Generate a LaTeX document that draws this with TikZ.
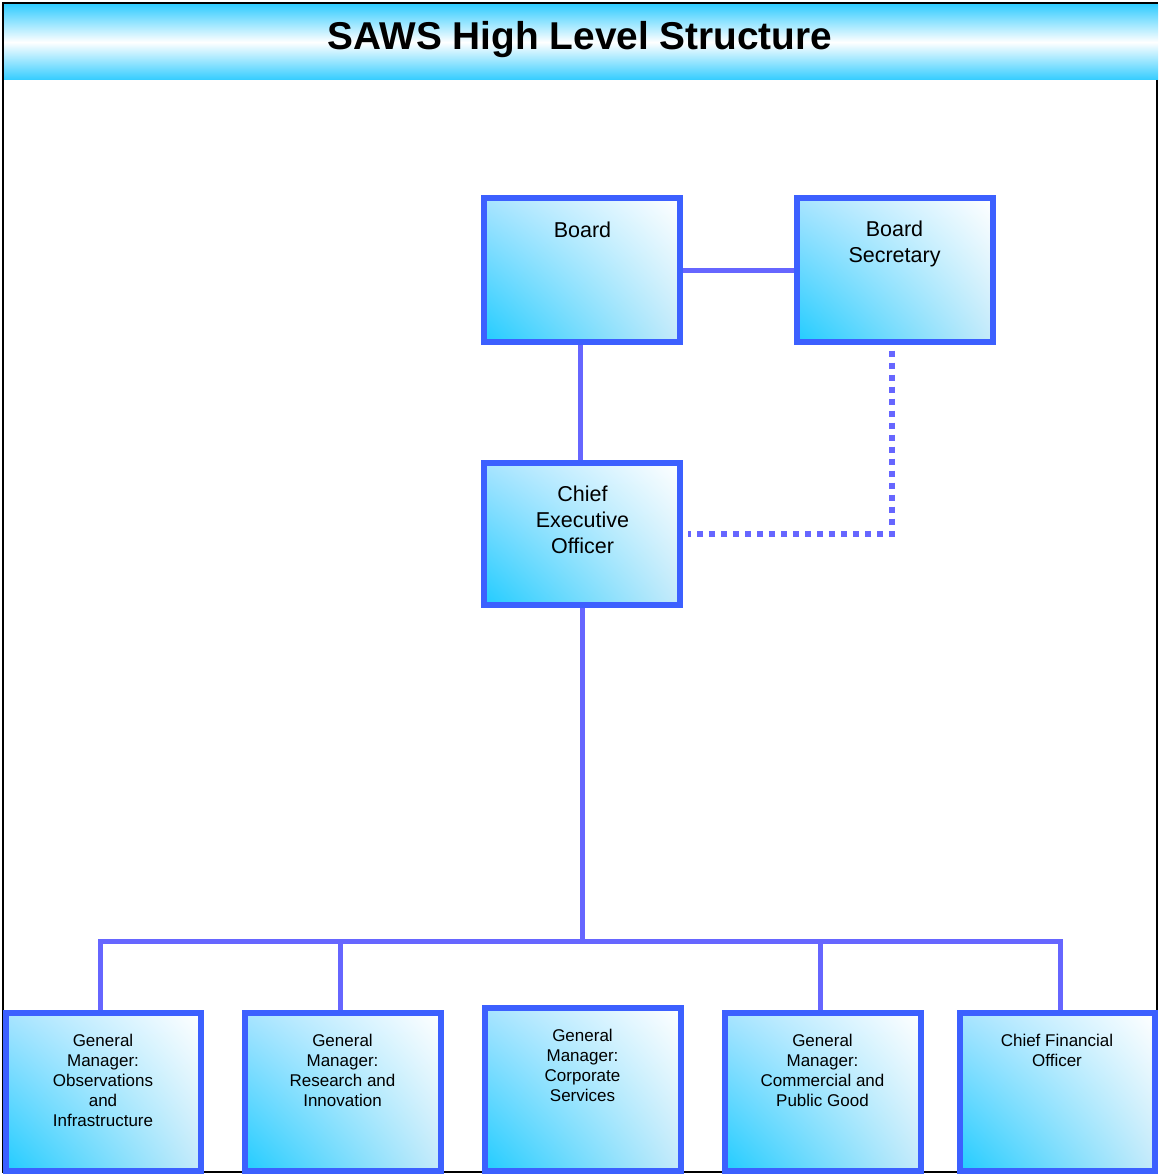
\documentclass[tikz,border=0pt]{standalone}
\usepackage{fontspec}
\setmainfont{Liberation Sans}
\usetikzlibrary{shadings}
\definecolor{boxblue}{HTML}{3C60FF}
\definecolor{linkblue}{HTML}{6666FF}
\definecolor{fillcyan}{HTML}{22CCFF}
\definecolor{midA}{HTML}{A8E4FF}
\definecolor{midB}{HTML}{C4EAFA}
\definecolor{hcyan}{HTML}{33CCFF}
\tikzset{
  orgbox/.style={draw=boxblue, line width=6pt, inner sep=0pt,
    minimum width=196pt, shade, shading=bilinear interpolation,
    lower left=fillcyan, upper right=white, upper left=midA, lower right=midB},
  bigtext/.style={inner sep=0pt, align=center, font=\fontsize{21.5}{26}\selectfont},
  smalltext/.style={inner sep=0pt, align=center, font=\fontsize{17}{20}\selectfont},
  link/.style={draw=linkblue, line width=5pt},
  dotlink/.style={draw=linkblue, line width=6pt, dash pattern=on 6pt off 6pt}
}
\begin{document}
\begin{tikzpicture}[x=1pt,y=-1pt]
\useasboundingbox (0,0) rectangle (1158,1174);
\fill[white] (0,0) rectangle (1158,1174);
% frame
\draw[black, line width=2.5pt] (3,3) rectangle (1157,1172);
% header
\shade[top color=hcyan, bottom color=hcyan, middle color=white] (4,4.3) rectangle (1158,80);
\node[inner sep=0pt, font=\fontsize{38.8}{44}\bfseries\selectfont] (title) at (580,40) {SAWS High Level Structure};

% top boxes
\node[orgbox, minimum height=143pt] (board) at (582,270) {};
\node[orgbox, minimum height=143pt] (sec) at (894.5,270) {};
\node[orgbox, minimum height=142pt] (ceo) at (582,533.5) {};

% bottom boxes
\node[orgbox, minimum width=195pt, minimum height=158pt] (b1) at (103,1091.5) {};
\node[orgbox, minimum height=158pt] (b2) at (342.5,1091.5) {};
\node[orgbox, minimum height=163pt] (b3) at (582.5,1089) {};
\node[orgbox, minimum height=158pt] (b4) at (822.5,1091.5) {};
\node[orgbox, minimum width=195pt, minimum height=158pt] (b5) at (1057,1091.5) {};

% texts
\node[bigtext] (boardt) at (582.5,230) {Board};
\node[bigtext] (sect) at (894.5,244) {Board\\Secretary};
\node[bigtext] (ceot) at (582.5,519.5) {Chief\\Executive\\Officer};
\node[smalltext] (b1t) at (103,1080) {General\\Manager:\\Observations\\and\\Infrastructure};
\node[smalltext] (b2t) at (342.5,1070) {General\\Manager:\\Research and\\Innovation};
\node[smalltext] (b3t) at (582.5,1065) {General\\Manager:\\Corporate\\Services};
\node[smalltext] (b4t) at (822.5,1070) {General\\Manager:\\Commercial and\\Public Good};
\node[smalltext] (b5t) at (1057,1050) {Chief Financial\\Officer};

% connectors
\draw[link] (board.east) -- (sec.west);
\draw[link] ([xshift=-1.5pt]board.south) -- ([xshift=-1.5pt]ceo.north);
\coordinate (sp) at ([xshift=-2.5pt,yshift=-6pt]sec.south);
\draw[dotlink, shorten >=5pt] (sp) |- (ceo.east);

\coordinate (bus) at (582,941);
\coordinate (j1) at (100,941);
\coordinate (j2) at (340,941);
\coordinate (j4) at (820,941);
\coordinate (j5) at (1060,941);
\draw[link] (ceo.south) -- (bus);
\draw[link] (j1 |- b1.north) -- (j1) -- (j5) -- (j5 |- b5.north);
\draw[link] (j2) -- (j2 |- b2.north);
\draw[link] (j4) -- (j4 |- b4.north);
\end{tikzpicture}
\end{document}
